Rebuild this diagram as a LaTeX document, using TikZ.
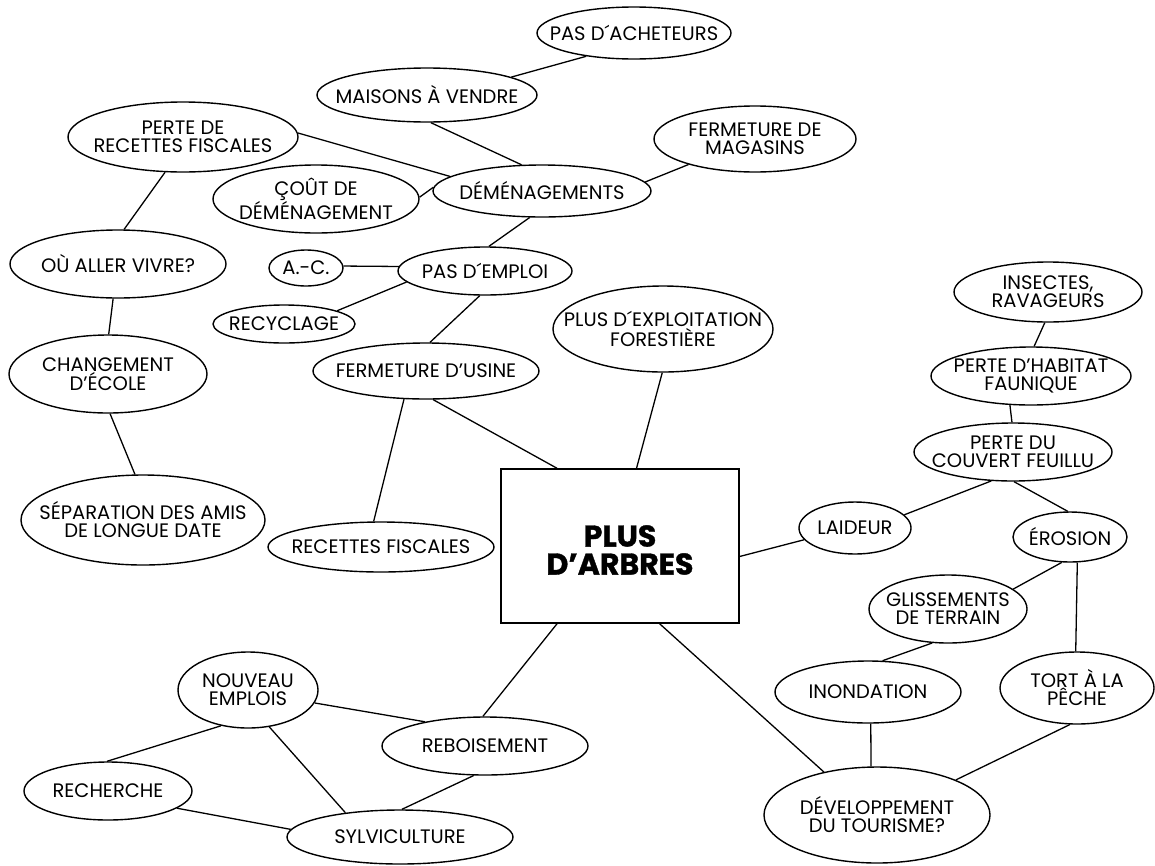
\documentclass[tikz,border=0pt]{standalone}
\usepackage{fontspec}
\setmainfont{Poppins}
\newfontfamily\heavyfont{Poppins}[FakeBold=1.2]
\usetikzlibrary{shapes.geometric}
\tikzset{
  ov/.style={draw, ellipse, line width=1.4pt, inner sep=0pt},
  lab/.style={align=center, inner sep=0pt, font=\fontsize{19.5}{18}\selectfont},
  boxlab/.style={align=center, inner sep=0pt, font=\heavyfont\fontsize{30}{28}\selectfont\bfseries},
  ln/.style={line width=1.3pt},
}
\begin{document}
\begin{tikzpicture}[x=1pt,y=-1pt]
\useasboundingbox[fill=white] (0,0) rectangle (1155,865);
% ellipses: center, 2rx, 2ry
\node[ov, minimum width=194, minimum height=52] (pas) at (634,33) {};
\node[ov, minimum width=220, minimum height=54] (mais) at (427,95) {};
\node[ov, minimum width=230, minimum height=70] (perte) at (183,137) {};
\node[ov, minimum width=202, minimum height=66] (mag) at (755,139) {};
\node[ov, minimum width=206, minimum height=68] (cout) at (316,199) {};
\node[ov, minimum width=218, minimum height=52] (dem) at (542,191) {};
\node[ov, minimum width=216, minimum height=68] (ou) at (118,264) {};
\node[ov, minimum width=74, minimum height=36] (ac) at (306,268) {};
\node[ov, minimum width=174, minimum height=48] (emploi) at (485,271) {};
\node[ov, minimum width=142, minimum height=38] (recy) at (284,324) {};
\node[ov, minimum width=198, minimum height=78] (change) at (108,374) {};
\node[ov, minimum width=226, minimum height=56] (usine) at (426,371) {};
\node[ov, minimum width=220, minimum height=86] (exploit) at (663,329) {};
\node[ov, minimum width=188, minimum height=60] (insect) at (1048,292) {};
\node[ov, minimum width=200, minimum height=58] (habitat) at (1031,376) {};
\node[ov, minimum width=198, minimum height=58] (couvert) at (1013,452) {};
\node[ov, minimum width=244, minimum height=90] (separ) at (143,520) {};
\node[ov, minimum width=226, minimum height=50] (recf) at (381,547) {};
\node[ov, minimum width=112, minimum height=52] (laid) at (855,528) {};
\node[ov, minimum width=114, minimum height=50] (eros) at (1070,537) {};
\node[ov, minimum width=158, minimum height=68] (gliss) at (948,609) {};
\node[ov, minimum width=186, minimum height=62] (inond) at (868,692) {};
\node[ov, minimum width=154, minimum height=72] (tort) at (1077,688) {};
\node[ov, minimum width=226, minimum height=96] (dev) at (877,815) {};
\node[ov, minimum width=140, minimum height=76] (nouv) at (248,690) {};
\node[ov, minimum width=206, minimum height=58] (rebois) at (485,746) {};
\node[ov, minimum width=168, minimum height=58] (rech) at (108,791) {};
\node[ov, minimum width=226, minimum height=54] (sylv) at (400,837) {};
\node[draw, line width=1.4pt, minimum width=238, minimum height=154, inner sep=0pt] (box) at (620,546) {};
% labels
\node[lab] (pas-t) at (pas) {PAS D´ACHETEURS};
\node[lab] (mais-t) at (mais) {MAISONS À VENDRE};
\node[lab] (perte-t) at (perte) {PERTE DE\\RECETTES FISCALES};
\node[lab] (mag-t) at (mag) {FERMETURE DE\\MAGASINS};
\node[lab] (cout-t) at (cout) {ÇOÛT DE\\DÉMÉNAGEMENT};
\node[lab] (dem-t) at (dem) {DÉMÉNAGEMENTS};
\node[lab] (ou-t) at (ou) {OÙ ALLER VIVRE?};
\node[lab] (ac-t) at (ac) {A.-C.};
\node[lab] (emploi-t) at (emploi) {PAS D´EMPLOI};
\node[lab] (recy-t) at (recy) {RECYCLAGE};
\node[lab] (change-t) at (change) {CHANGEMENT\\D’ÉCOLE};
\node[lab] (usine-t) at (usine) {FERMETURE D’USINE};
\node[lab] (exploit-t) at (exploit) {PLUS D´EXPLOITATION\\FORESTIÈRE};
\node[lab] (insect-t) at (insect) {INSECTES,\\RAVAGEURS};
\node[lab] (habitat-t) at (habitat) {PERTE D’HABITAT\\FAUNIQUE};
\node[lab] (couvert-t) at (couvert) {PERTE DU\\COUVERT FEUILLU};
\node[lab] (separ-t) at (separ) {SÉPARATION DES AMIS\\DE LONGUE DATE};
\node[lab] (recf-t) at (recf) {RECETTES FISCALES};
\node[lab] (laid-t) at (laid) {LAIDEUR};
\node[lab] (eros-t) at (eros) {ÉROSION};
\node[lab] (gliss-t) at (gliss) {GLISSEMENTS\\DE TERRAIN};
\node[lab] (inond-t) at (inond) {INONDATION};
\node[lab] (tort-t) at (tort) {TORT À LA\\PÊCHE};
\node[lab] (dev-t) at (dev) {DÉVELOPPEMENT\\DU TOURISME?};
\node[lab] (nouv-t) at (nouv) {NOUVEAU\\EMPLOIS};
\node[lab] (rebois-t) at (rebois) {REBOISEMENT};
\node[lab] (rech-t) at (rech) {RECHERCHE};
\node[lab] (sylv-t) at (sylv) {SYLVICULTURE};
\node[boxlab] (box-t) at ([yshift=-4pt]box.center) {PLUS\\D’ARBRES};
% connectors
\draw[ln] (mais.12) -- (pas.206);
\draw[ln] (mais.-82) -- (dem.128);
\draw[ln] (perte.2) -- (dem.171);
\draw[ln] (cout.1) -- (dem.178);
\draw[ln] (mag.201) -- (dem.5);
\draw[ln] (dem.245) -- (emploi.81);
\draw[ln] (perte.243) -- (ou.80);
\draw[ln] (ou.262) -- (change.89);
\draw[ln] (change.273) -- (separ.100);
\draw[ln] (ac.3) -- (emploi.177);
\draw[ln] (recy.14) -- (emploi.188);
\draw[ln] (emploi.258) -- (usine.82);
\draw[ln] (usine.232) -- (recf.106);
\draw[ln] (usine.284) -- (box.129.3);
\draw[ln] (exploit.269) -- (box.78.3);
\draw[ln] (box.-5.3) -- (laid.193);
\draw[ln] (laid.15) -- (couvert.233.7);
\draw[ln] (couvert.272) -- (eros.95);
\draw[ln] (habitat.234) -- (couvert.92);
\draw[ln] (insect.264) -- (habitat.84);
\draw[ln] (eros.252) -- (gliss.17);
\draw[ln] (eros.286) -- (tort.92);
\draw[ln] (gliss.245) -- (inond.65);
\draw[ln] (inond.275.5) -- (dev.97);
\draw[ln] (tort.259) -- (dev.24);
\draw[ln] (box.297.5) -- (dev.141);
\draw[ln] (box.231.6) -- (rebois.94);
\draw[ln] (nouv.349) -- (rebois.158.7);
\draw[ln] (nouv.233) -- (rech.92);
\draw[ln] (nouv.300) -- (sylv.156);
\draw[ln] (rebois.249) -- (sylv.86);
\draw[ln] (rech.346) -- (sylv.176);
\end{tikzpicture}
\end{document}
